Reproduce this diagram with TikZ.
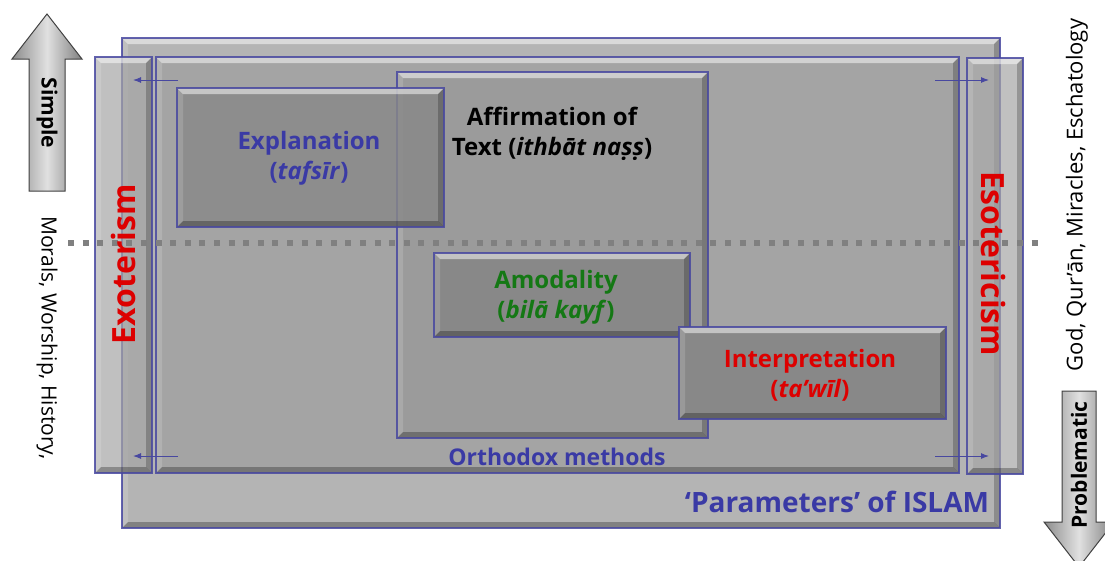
\documentclass[tikz,border=0pt]{standalone}
\usepackage{fontspec}
\setmainfont{Open Sans}
\usetikzlibrary{arrows.meta,calc}

\definecolor{edgeblue}{RGB}{72,72,160}
\definecolor{lblblue}{RGB}{58,58,165}
\definecolor{lblred}{RGB}{221,0,0}
\definecolor{lblgreen}{RGB}{20,120,20}
\definecolor{outerfill}{RGB}{180,180,180}
\definecolor{orthofill}{RGB}{164,164,164}
\definecolor{affirmfill}{RGB}{155,155,155}
\definecolor{darkfill}{RGB}{136,136,136}
\definecolor{colfill}{RGB}{165,165,165}
\definecolor{dotgray}{RGB}{128,128,128}

% bevelled panel: x1,y1 (top left), x2,y2 (bottom right), fill options
\newcommand\bevbox[5]{%
  \fill[#5] (#1,#2) rectangle (#3,#4);
  \fill[white,opacity=.5] (#1,#2) -- (#3,#2) -- (#3-6,#2+6) -- (#1+6,#2+6) -- cycle;
  \fill[white,opacity=.15] (#1,#2) -- (#1+6,#2+6) -- (#1+6,#4-6) -- (#1,#4) -- cycle;
  \fill[black,opacity=.22] (#3,#2) -- (#3,#4) -- (#3-6,#4-6) -- (#3-6,#2+6) -- cycle;
  \fill[black,opacity=.28] (#1,#4) -- (#3,#4) -- (#3-6,#4-6) -- (#1+6,#4-6) -- cycle;
  \draw[panel edge] (#1,#2) rectangle (#3,#4);
}

\tikzset{
  panel edge/.style={draw=edgeblue,line width=1.3pt,draw opacity=.85},
  label/.style={font=\bfseries\fontsize{24}{30}\selectfont,align=center,inner sep=0pt},
  side/.style={font=\fontsize{21}{25}\selectfont,inner sep=0pt},
  column/.style={font=\bfseries\fontsize{32}{36}\selectfont,text=lblred,inner sep=0pt},
  arrowword/.style={font=\bfseries\fontsize{21}{23}\selectfont,inner sep=0pt},
  bigarrow/.style={draw=black!75,line width=1pt,shading=axis,shading angle=90,
    left color=black!45,right color=black!50,middle color=black!12},
  shift arrow/.style={draw=edgeblue,line width=1pt,-{Latex[length=8pt,width=6pt]}},
  dotline/.style={draw=dotgray,line width=5.5pt,dash pattern=on 6pt off 8.6pt}
}

\begin{document}
\begin{tikzpicture}[x=1pt,y=-1pt]
\useasboundingbox (0,0) rectangle (1105,560);

% direction arrows
\draw[bigarrow] (47,14) -- (82,59) -- (65,59) -- (65,191) -- (29,191) -- (29,59) -- (12,59) -- cycle;
\draw[bigarrow] (1079,567) -- (1114,522) -- (1096,522) -- (1096,391) -- (1062,391) -- (1062,522) -- (1044,522) -- cycle;
\node[arrowword,rotate=-90] (simple) at (47,113) {Simple};
\node[arrowword,rotate=90] (problematic) at (1079,465) {Problematic};

% side captions
\node[side,rotate=-90] (morals) at (47,338) {Morals, Worship, History,};
\node[side,rotate=90,font=\fontsize{22}{26}\selectfont] (god) at (1077,195) {God, Qur’ān, Miracles, Eschatology};

% nested panels
\bevbox{122}{38}{1000}{528}{outerfill}
\bevbox{156}{57}{959}{473}{orthofill}
\bevbox{397}{72}{708}{438}{affirmfill}
\bevbox{177}{88}{444}{227}{darkfill,fill opacity=.82}
\bevbox{434}{253}{690}{337}{darkfill}
\bevbox{679}{327}{946}{419}{darkfill}

% exoteric / esoteric columns
\bevbox{95}{57}{152}{473}{colfill,fill opacity=.7}
\bevbox{967}{58}{1023}{474}{colfill,fill opacity=.7}

% dividing line
\coordinate (divL) at (68,243);
\coordinate (divR) at (1045,243);
\draw[dotline] (divL) -- (divR);

% shift arrows
\coordinate (tlA) at (178,80);  \coordinate (tlB) at (133,80);
\coordinate (blA) at (178,456); \coordinate (blB) at (133,456);
\coordinate (trA) at (935,80);  \coordinate (trB) at (989,80);
\coordinate (brA) at (935,456); \coordinate (brB) at (989,456);
\draw[shift arrow] (tlA) -- (tlB);
\draw[shift arrow] (blA) -- (blB);
\draw[shift arrow] (trA) -- (trB);
\draw[shift arrow] (brA) -- (brB);

% labels
\node[label,text=lblblue] (explanation) at (309,158) {Explanation\\(\textit{tafsīr})};
\node[label,text=black] (affirmation) at (552,134) {Affirmation of\\Text (\textit{ithbāt naṣṣ})};
\node[label,text=lblgreen] (amodality) at (556,297) {Amodality\\(\textit{bilā kayf})};
\node[label,text=lblred] (interpretation) at (810,375) {Interpretation\\(\textit{ta’wīl})};
\node[label,text=lblblue,font=\bfseries\fontsize{23}{28}\selectfont] (orthodox) at (557,457) {Orthodox methods};
\node[label,text=lblblue,font=\bfseries\fontsize{28}{32}\selectfont] (parameters) at (837,502) {‘Parameters’ of ISLAM};
\node[column,rotate=90] (exoterism) at (123,264) {Exoterism};
\node[column,rotate=-90] (esotericism) at (993,264) {Esotericism};
\end{tikzpicture}
\end{document}
